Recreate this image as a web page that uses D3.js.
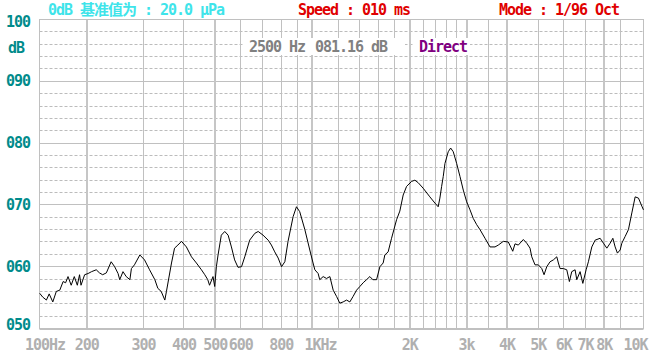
<!DOCTYPE html>
<html>
<head>
<meta charset="utf-8">
<script src="https://cdn.jsdelivr.net/npm/d3@7"></script>
<style>
  body { margin: 0; background: #fff; }
  svg { display: block; }
  text { font-family: "DejaVu Sans Mono", "Noto Sans CJK SC", monospace; font-weight: bold; font-size: 15px; letter-spacing: -1.03px; }
</style>
</head>
<body>
<script>
// response curve, 1/96 oct
var freqs = [143, 146, 150, 153, 157, 161, 165, 169, 172, 175, 179, 183, 187, 190, 192, 197, 202, 207, 214, 219,
    224, 230, 238, 244, 250, 253, 259, 265, 272, 275, 281, 292, 302, 313, 325, 332, 340, 349, 353, 366,
    374, 383, 393, 407, 422, 437, 453, 464, 474, 480, 492, 498, 504, 510, 522, 535, 548, 561, 574, 588,
    603, 617, 639, 663, 679, 703, 729, 746, 764, 783, 802, 821, 840, 871, 892, 913, 947, 981, 1004, 1017,
    1041, 1053, 1079, 1105, 1132, 1159, 1187, 1215, 1244, 1275, 1305, 1336, 1369, 1402, 1435, 1470, 1505, 1538, 1579, 1617,
    1655, 1675, 1715, 1757, 1821, 1864, 1909, 1956, 2027, 2075, 2124, 2201, 2309, 2393, 2450, 2480, 2511, 2540, 2571, 2632,
    2678, 2728, 2795, 2862, 2930, 3002, 3074, 3147, 3224, 3301, 3421, 3545, 3674, 3761, 3897, 4039, 4169, 4237, 4338, 4496,
    4607, 4716, 4774, 4887, 5003, 5127, 5212, 5314, 5440, 5569, 5707, 5772, 5842, 5981, 6128, 6243, 6350, 6503, 6581, 6739,
    6871, 7034, 7150, 7325, 7501, 7773, 7958, 8154, 8348, 8511, 8652, 8794, 8966, 9074, 9292, 9512, 9745, 9979, 10216, 10466,
    10587];
var levels = [55.7, 55.1, 54.6, 55.6, 54.3, 56.0, 56.2, 57.6, 57.4, 58.4, 57.0, 58.4, 57.0, 58.7, 57.0, 58.7, 58.9, 59.2, 59.5, 59.0,
    58.7, 59.0, 60.8, 60.0, 58.9, 57.9, 59.2, 58.4, 57.9, 59.7, 60.3, 61.9, 61.1, 59.5, 57.9, 56.5, 56.0, 54.6, 56.0, 60.6,
    63.0, 63.5, 64.1, 63.2, 61.6, 60.6, 59.5, 58.7, 57.9, 57.0, 58.4, 56.8, 60.0, 61.9, 65.1, 65.7, 65.1, 63.2, 61.1, 59.9,
    60.0, 61.6, 64.3, 65.4, 65.7, 65.1, 64.3, 63.5, 62.4, 61.4, 60.0, 60.8, 64.1, 68.1, 69.7, 68.9, 66.0, 62.7, 60.6, 59.5,
    58.9, 57.9, 58.4, 58.1, 58.4, 56.2, 55.2, 54.1, 54.3, 54.6, 54.3, 55.2, 56.2, 56.8, 57.4, 57.9, 58.4, 57.9, 57.9, 60.0,
    60.6, 61.9, 62.4, 64.6, 67.6, 69.0, 71.6, 73.0, 73.8, 74.0, 73.6, 72.7, 71.3, 70.3, 69.7, 71.1, 73.0, 74.6, 76.7, 78.6,
    79.2, 78.6, 76.7, 74.6, 72.4, 70.5, 69.2, 67.8, 66.8, 66.0, 64.6, 63.2, 63.2, 63.5, 64.1, 64.0, 62.5, 63.7, 63.5, 64.4,
    63.8, 63.0, 61.6, 60.3, 60.3, 59.7, 58.7, 60.0, 60.8, 61.1, 61.6, 60.6, 59.7, 59.7, 59.5, 57.6, 59.2, 59.5, 57.9, 59.2,
    57.3, 59.5, 60.8, 63.2, 64.3, 64.6, 63.8, 63.0, 63.8, 64.6, 63.2, 62.2, 62.7, 63.8, 64.9, 66.0, 68.7, 71.3, 71.1, 69.8,
    69.2];

var gridFreqs = [200, 300, 400, 500, 600, 700, 800, 900, 1000, 1200, 1400, 1600, 1800, 2000, 2200, 2400, 2600, 2800,
    3000, 3500, 4000, 5000, 6000, 7000, 8000, 9000];
var majorFreqs = [200, 500, 1000, 2000, 3000, 4000, 8000];
var freqLabels = ["100Hz", "200", "300", "400", "500", "600", "800", "1KHz", "2K", "3k", "4K", "5K", "6K", "7K", "8K", "10K"];
var freqLabelValues = [100, 200, 300, 400, 500, 600, 800, 1000, 2000, 3000, 4000, 5000, 6000, 7000, 8000, 10000];
var dbLabels = ["100", "090", "080", "070", "060", "050"];
var dbLabelValues = [100, 90, 80, 70, 60, 50];

var width = 656, height = 358;
var plot = {left: 39.5, right: 643.5, top: 19.5, bottom: 328.5};
var gridColor = "#c0c0c0";

var svg = d3.select("body").append("svg")
    .attr("width", width)
    .attr("height", height);

var x = d3.scaleLog()
    .domain([142.8, 10590])
    .range([plot.left, plot.right]);
var y = d3.scaleLinear()
    .domain([50, 100])
    .range([plot.bottom, plot.top]);

function px(v) { return Math.round(v - 0.5) + 0.5; }
function isMajor(f) { return majorFreqs.indexOf(f) >= 0; }

// dashed 2 dB lines
var grid = svg.append("g");
grid.selectAll(".minor-h")
    .data(d3.range(52, 100, 2).filter(function (d) { return d % 10 !== 0; }))
    .enter().append("line")
    .attr("x1", plot.left).attr("x2", plot.right)
    .attr("y1", function (d) { return px(y(d)); })
    .attr("y2", function (d) { return px(y(d)); })
    .attr("stroke", "#bcbcbc")
    .attr("stroke-dasharray", "3,2");

// solid 10 dB lines
grid.selectAll(".major-h")
    .data([60, 70, 80, 90])
    .enter().append("line")
    .attr("x1", plot.left).attr("x2", plot.right)
    .attr("y1", function (d) { return px(y(d)); })
    .attr("y2", function (d) { return px(y(d)); })
    .attr("stroke", gridColor);

// vertical freq lines
grid.selectAll(".v")
    .data(gridFreqs)
    .enter().append("line")
    .attr("x1", function (d) { return isMajor(d) ? Math.round(x(d)) : px(x(d)); })
    .attr("x2", function (d) { return isMajor(d) ? Math.round(x(d)) : px(x(d)); })
    .attr("y1", plot.top).attr("y2", plot.bottom)
    .attr("stroke", function (d) { return isMajor(d) ? "#c6c6c6" : gridColor; })
    .attr("stroke-width", function (d) { return isMajor(d) ? 2 : 1; });

// frame
svg.append("rect")
    .attr("x", plot.left).attr("y", plot.top)
    .attr("width", plot.right - plot.left)
    .attr("height", plot.bottom - plot.top)
    .attr("fill", "none")
    .attr("stroke", gridColor);
svg.append("line")
    .attr("x1", plot.left).attr("x2", plot.right)
    .attr("y1", plot.bottom + 1).attr("y2", plot.bottom + 1)
    .attr("stroke", gridColor);

// readout boxes
svg.append("rect").attr("x", 244).attr("y", 38).attr("width", 161).attr("height", 17).attr("fill", "#fff");
svg.append("rect").attr("x", 413).attr("y", 38).attr("width", 57).attr("height", 17).attr("fill", "#fff");
svg.append("text").attr("x", 249).attr("y", 52).attr("fill", "#808080").text("2500 Hz");
svg.append("text").attr("x", 315).attr("y", 52).attr("fill", "#808080").text("081.16 dB");
svg.append("text").attr("x", 419).attr("y", 52).attr("fill", "#800080").text("Direct");

// curve
var data = freqs.map(function (f, i) { return {f: f, db: levels[i]}; });
var line = d3.line()
    .x(function (d) { return x(d.f); })
    .y(function (d) { return y(d.db); });
svg.append("path")
    .datum(data)
    .attr("d", line)
    .attr("fill", "none")
    .attr("stroke", "#000")
    .attr("stroke-width", 1);

// header
svg.append("text").attr("x", 48).attr("y", 15).attr("fill", "#3ee4ea").text("0dB 基准值为 : 20.0 μPa");
svg.append("text").attr("x", 298).attr("y", 15).attr("fill", "#e00000").text("Speed : 010 ms");
svg.append("text").attr("x", 499).attr("y", 15).attr("fill", "#e00000").text("Mode : 1/96 Oct");

// dB axis labels
svg.selectAll(".ylab")
    .data(dbLabelValues)
    .enter().append("text")
    .attr("text-anchor", "end")
    .attr("x", 30)
    .attr("y", function (d) { return Math.min(330, Math.max(27, y(d) + 5)); })
    .attr("fill", "#008b8b")
    .text(function (d, i) { return dbLabels[i]; });
svg.append("text").attr("x", 8).attr("y", 53).attr("fill", "#008b8b").text("dB");

// freq axis labels
svg.selectAll(".xlab")
    .data(freqLabelValues)
    .enter().append("text")
    .attr("x", function (d, i) {
        var lab = freqLabels[i];
        var num = lab.replace("Hz", "").length;
        return Math.min(649 - lab.length * 8, Math.max(25, x(d) - num * 4));
    })
    .attr("y", 350)
    .attr("fill", "#b0b0b0")
    .text(function (d, i) { return freqLabels[i]; });
</script>
</body>
</html>
